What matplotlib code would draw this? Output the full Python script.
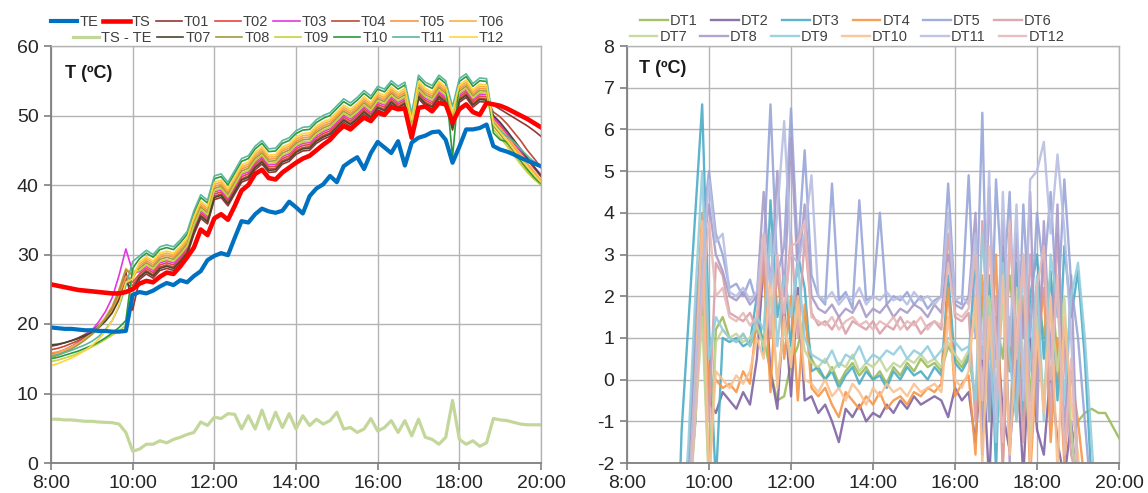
import numpy as np
import matplotlib
matplotlib.use("Agg")
import matplotlib.pyplot as plt

plt.rcParams['font.family'] = ['Liberation Sans', 'DejaVu Sans']
plt.rcParams['axes.unicode_minus'] = False

# ---------------- data ----------------
# left panel: 10-minute samples 8:00 .. 20:00
time_left = 8 + np.arange(73) / 6.0
# right panel: 10-minute samples 9:10 .. 20:00
time_right = 9 + 1 / 6.0 + np.arange(66) / 6.0

xtick_hours = [8, 10, 12, 14, 16, 18, 20]
xtick_labels = ["8:00", "10:00", "12:00", "14:00", "16:00", "18:00", "20:00"]
ytick_left = [0, 10, 20, 30, 40, 50, 60]
ytick_right = [-2, -1, 0, 1, 2, 3, 4, 5, 6, 7, 8]

TE = [19.5, 19.4, 19.3, 19.3, 19.2, 19.1, 19.1, 19.0, 19.0, 18.9, 18.9, 19.0,
      24.2, 24.6, 24.4, 24.8, 25.4, 25.9, 25.6, 26.3, 26.0, 26.9, 27.6, 29.2,
      29.8, 30.2, 29.9, 32.4, 34.8, 34.6, 35.8, 36.6, 36.2, 36.0, 36.3, 37.6,
      36.8, 35.9, 38.4, 39.5, 40.1, 41.3, 40.4, 42.7, 43.4, 44.0, 42.3, 44.6,
      46.2, 45.4, 44.6, 46.3, 42.8, 46.1, 46.8, 47.1, 47.6, 47.7, 46.5, 43.2,
      45.5, 48.0, 48.0, 48.2, 48.7, 45.6, 45.1, 44.8, 44.4, 43.9, 43.5, 43.1,
      42.7]
TS = [25.7, 25.5, 25.3, 25.1, 24.9, 24.8, 24.7, 24.6, 24.5, 24.4, 24.4, 24.6,
      25.0, 25.8, 26.2, 26.0, 26.8, 27.4, 27.2, 28.3, 29.6, 31.0, 33.6, 32.8,
      35.2, 35.8, 35.0, 37.0, 39.2, 40.0, 41.6, 42.2, 41.0, 40.8, 41.8, 42.5,
      43.2, 43.8, 44.2, 45.0, 45.8, 46.5, 47.6, 48.5, 48.0, 48.9, 49.7, 49.2,
      50.4, 50.1, 51.2, 50.9, 51.0, 46.8, 51.1, 51.3, 50.6, 51.8, 51.6, 49.0,
      50.9, 51.6, 50.5, 50.1, 51.8, 51.6, 51.4, 51.0, 50.5, 50.0, 49.5, 48.9,
      48.3]
TS_TE = [6.3, 6.3, 6.2, 6.2, 6.1, 6.0, 6.0, 5.9, 5.85, 5.8, 5.6, 4.4,
         1.7, 2.0, 2.7, 2.7, 3.2, 2.9, 3.4, 3.7, 4.1, 4.4, 5.9, 5.4,
         6.6, 6.4, 7.1, 7.0, 4.9, 6.8, 4.9, 7.6, 4.9, 7.3, 5.1, 7.1,
         4.9, 6.8, 5.4, 6.3, 5.6, 6.1, 7.3, 4.9, 5.1, 4.4, 4.9, 6.4,
         4.6, 5.1, 6.1, 4.4, 6.1, 3.9, 6.3, 3.7, 3.4, 2.7, 3.7, 9.0,
         3.4, 2.7, 3.2, 2.4, 2.9, 6.4, 6.2, 6.1, 5.85, 5.6, 5.5, 5.5,
         5.5]

T01 = [16.8, 17.0, 17.3, 17.6, 18.0, 18.5, 19.0, 19.8, 20.8, 22.2, 24.5, 27.5, 22.0,
       26.4, 27.2, 26.6, 27.7, 28.0, 27.7, 28.7, 29.9, 32.9, 35.2, 34.4, 37.9, 38.2,
       37.0, 38.7, 40.4, 40.8, 42.2, 43.0, 41.8, 41.9, 43.0, 43.4, 44.4, 44.9, 45.0,
       46.0, 46.6, 47.0, 48.0, 49.0, 48.4, 49.2, 50.2, 49.4, 50.8, 50.4, 51.6, 50.8,
       51.4, 46.9, 52.4, 51.4, 50.9, 52.4, 51.6, 47.9, 51.9, 52.6, 51.2, 52.0, 51.9,
       51.5, 50.9, 50.3, 49.7, 49.1, 48.5, 47.8, 47.0]
T02 = [15.6, 15.9, 16.3, 16.8, 17.3, 17.9, 18.6, 19.5, 20.6, 22.0, 24.2, 27.0, 26.0,
       27.2, 28.0, 27.4, 28.5, 28.8, 28.5, 29.5, 30.7, 33.7, 36.0, 35.2, 38.7, 39.0,
       37.8, 39.5, 41.2, 41.6, 43.0, 43.8, 42.6, 42.7, 43.8, 44.2, 45.2, 45.7, 45.8,
       46.8, 47.4, 47.8, 48.8, 49.8, 49.2, 50.0, 51.0, 50.2, 51.6, 51.2, 52.4, 51.6,
       52.2, 47.7, 53.2, 52.2, 51.7, 53.2, 52.4, 48.7, 52.7, 53.4, 52.0, 52.8, 52.7,
       49.5, 48.5, 47.3, 46.0, 44.8, 43.6, 42.4, 41.2]
T03 = [15.3, 15.6, 16.1, 16.7, 17.4, 18.2, 19.1, 20.3, 21.8, 23.8, 27.0, 30.8, 27.5,
       27.5, 28.3, 27.7, 28.8, 29.1, 28.8, 29.8, 31.0, 34.0, 36.3, 35.5, 39.0, 39.3,
       38.1, 39.8, 41.5, 41.9, 43.3, 44.1, 42.9, 43.0, 44.1, 44.5, 45.5, 46.0, 46.1,
       47.1, 47.7, 48.1, 49.1, 50.1, 49.5, 50.3, 51.3, 50.5, 51.9, 51.5, 52.7, 51.9,
       52.5, 48.0, 53.5, 52.5, 52.0, 53.5, 52.7, 49.0, 53.0, 53.7, 52.3, 53.1, 53.0,
       49.8, 48.8, 47.5, 46.2, 45.0, 43.8, 42.6, 41.5]
T04 = [16.3, 16.5, 16.8, 17.2, 17.6, 18.1, 18.7, 19.5, 20.5, 21.8, 23.8, 26.5, 25.5,
       26.9, 27.7, 27.1, 28.2, 28.5, 28.2, 29.2, 30.4, 33.4, 35.7, 34.9, 38.4, 38.7,
       37.5, 39.2, 40.9, 41.3, 42.7, 43.5, 42.3, 42.4, 43.5, 43.9, 44.9, 45.4, 45.5,
       46.5, 47.1, 47.5, 48.5, 49.5, 48.9, 49.7, 50.7, 49.9, 51.3, 50.9, 52.1, 51.3,
       51.9, 47.4, 52.9, 51.9, 51.4, 52.9, 52.1, 48.4, 52.4, 53.1, 51.7, 52.5, 52.4,
       50.5, 49.8, 48.8, 47.6, 46.4, 45.0, 43.8, 42.5]
T05 = [15.8, 16.0, 16.3, 16.7, 17.2, 17.8, 18.5, 19.4, 20.5, 21.9, 24.0, 26.8, 26.5,
       28.3, 29.1, 28.5, 29.6, 29.9, 29.6, 30.6, 31.8, 34.8, 37.1, 36.3, 39.8, 40.1,
       38.9, 40.6, 42.3, 42.7, 44.1, 44.9, 43.7, 43.8, 44.9, 45.3, 46.3, 46.8, 46.9,
       47.9, 48.5, 48.9, 49.9, 50.9, 50.3, 51.1, 52.1, 51.3, 52.7, 52.3, 53.5, 52.7,
       53.3, 48.8, 54.3, 53.3, 52.8, 54.3, 53.5, 49.8, 53.8, 54.5, 53.1, 53.9, 53.8,
       49.0, 48.0, 46.8, 45.5, 44.2, 43.0, 41.8, 40.5]
T06 = [15.5, 15.8, 16.2, 16.7, 17.2, 17.9, 18.7, 19.7, 21.0, 22.6, 25.0, 28.0, 27.0,
       28.6, 29.4, 28.8, 29.9, 30.2, 29.9, 30.9, 32.1, 35.1, 37.4, 36.6, 40.1, 40.4,
       39.2, 40.9, 42.6, 43.0, 44.4, 45.2, 44.0, 44.1, 45.2, 45.6, 46.6, 47.1, 47.2,
       48.2, 48.8, 49.2, 50.2, 51.2, 50.6, 51.4, 52.4, 51.6, 53.0, 52.6, 53.8, 53.0,
       53.6, 49.1, 54.6, 53.6, 53.1, 54.6, 53.8, 50.1, 54.1, 54.8, 53.4, 54.2, 54.1,
       49.3, 48.2, 47.0, 45.7, 44.4, 43.1, 41.9, 40.7]
T07 = [17.0, 17.1, 17.3, 17.6, 17.9, 18.3, 18.8, 19.5, 20.4, 21.6, 23.5, 26.0, 25.0,
       26.7, 27.5, 26.9, 28.0, 28.3, 28.0, 29.0, 30.2, 33.2, 35.5, 34.7, 38.2, 38.5,
       37.3, 39.0, 40.7, 41.1, 42.5, 43.3, 42.1, 42.2, 43.3, 43.7, 44.7, 45.2, 45.3,
       46.3, 46.9, 47.3, 48.3, 49.3, 48.7, 49.5, 50.5, 49.7, 51.1, 50.7, 51.9, 51.1,
       51.7, 47.2, 52.7, 51.7, 51.2, 52.7, 51.9, 48.2, 52.2, 52.9, 51.5, 52.3, 52.2,
       50.0, 49.0, 47.8, 46.5, 45.2, 43.9, 42.6, 41.3]
T08 = [15.2, 15.5, 15.9, 16.4, 17.0, 17.7, 18.5, 19.5, 20.8, 22.4, 24.8, 27.8, 27.0,
       28.0, 28.8, 28.2, 29.3, 29.6, 29.3, 30.3, 31.5, 34.5, 36.8, 36.0, 39.5, 39.8,
       38.6, 40.3, 42.0, 42.4, 43.8, 44.6, 43.4, 43.5, 44.6, 45.0, 46.0, 46.5, 46.6,
       47.6, 48.2, 48.6, 49.6, 50.6, 50.0, 50.8, 51.8, 51.0, 52.4, 52.0, 53.2, 52.4,
       53.0, 48.5, 54.0, 53.0, 52.5, 54.0, 53.2, 49.5, 53.5, 54.2, 52.8, 53.6, 53.5,
       48.5, 47.3, 46.0, 44.7, 43.4, 42.1, 41.0, 40.0]
T09 = [14.6, 14.8, 15.1, 15.4, 15.8, 16.2, 16.7, 17.2, 17.8, 18.4, 19.0, 19.8, 27.5,
       27.7, 28.5, 27.9, 29.0, 29.3, 29.0, 30.0, 31.2, 34.2, 36.5, 35.7, 39.2, 39.5,
       38.3, 40.0, 41.7, 42.1, 43.5, 44.3, 43.1, 43.2, 44.3, 44.7, 45.7, 46.2, 46.3,
       47.3, 47.9, 48.3, 49.3, 50.3, 49.7, 50.5, 51.5, 50.7, 52.1, 51.7, 52.9, 52.1,
       52.7, 48.2, 53.7, 52.7, 52.2, 53.7, 52.9, 49.2, 53.2, 53.9, 52.5, 53.3, 53.2,
       48.0, 46.8, 45.6, 44.3, 43.0, 41.8, 40.8, 40.0]
T10 = [15.0, 15.2, 15.5, 15.8, 16.1, 16.5, 16.9, 17.4, 18.0, 18.7, 19.5, 20.5, 28.0,
       29.4, 30.2, 29.6, 30.7, 31.0, 30.7, 31.7, 32.9, 35.9, 38.2, 37.4, 40.9, 41.2,
       40.0, 41.7, 43.4, 43.8, 45.2, 46.0, 44.8, 44.9, 46.0, 46.4, 47.4, 47.9, 48.0,
       49.0, 49.6, 50.0, 51.0, 52.0, 51.4, 52.2, 53.2, 52.4, 53.8, 53.4, 54.6, 53.8,
       54.4, 49.9, 55.4, 54.4, 53.9, 55.4, 54.6, 44.0, 54.9, 55.6, 54.2, 55.0, 54.9,
       47.5, 46.5, 46.2, 45.0, 43.6, 42.3, 41.1, 40.2]
T11 = [15.4, 15.6, 15.9, 16.2, 16.6, 17.0, 17.5, 18.2, 19.2, 20.5, 22.5, 25.5, 29.0,
       29.8, 30.6, 30.0, 31.1, 31.4, 31.1, 32.1, 33.3, 36.3, 38.6, 37.8, 41.3, 41.6,
       40.4, 42.1, 43.8, 44.2, 45.6, 46.4, 45.2, 45.3, 46.4, 46.8, 47.8, 48.3, 48.4,
       49.4, 50.0, 50.4, 51.4, 52.4, 51.8, 52.6, 53.6, 52.8, 54.2, 53.8, 55.0, 54.2,
       54.8, 50.3, 55.8, 54.8, 54.3, 55.8, 55.0, 51.3, 55.3, 56.0, 54.6, 55.4, 55.3,
       49.0, 47.8, 47.0, 46.2, 45.2, 44.2, 43.3, 42.6]
T12 = [14.0, 14.3, 14.7, 15.1, 15.6, 16.2, 16.9, 17.8, 19.0, 20.5, 22.8, 26.0, 26.5,
       28.9, 29.7, 29.1, 30.2, 30.5, 30.2, 31.2, 32.4, 35.4, 37.7, 36.9, 40.4, 40.7,
       39.5, 41.2, 42.9, 43.3, 44.7, 45.5, 44.3, 44.4, 45.5, 45.9, 46.9, 47.4, 47.5,
       48.5, 49.1, 49.5, 50.5, 51.5, 50.9, 51.7, 52.7, 51.9, 53.3, 52.9, 54.1, 53.3,
       53.9, 49.4, 54.9, 53.9, 53.4, 54.9, 54.1, 50.4, 54.4, 55.1, 53.7, 54.5, 54.4,
       48.8, 47.6, 46.4, 45.1, 43.8, 42.6, 41.5, 40.4]

DT1 = [-6, -4, -2.8, -0.5, 2.0, -2.5, 1.2, 1.5, 1.0, 0.9, 1.1, 0.8,
       1.2, 1.0, 0.2, -0.5, -0.4, 0.4, 0.8, 1.5, 0.5, 0.2, 0.0, 0.3,
       -0.1, 0.2, 0.4, 0.1, 0.3, 0.0, 0.2, -0.1, 0.3, 0.1, 0.4, 0.2,
       0.5, 0.3, 0.4, 0.2, 0.8, 0.5, 0.3, 0.6, -0.5, 2.0, -1.0, 1.5,
       0.5, 2.5, 0.8, 1.8, -0.5, 2.2, 1.0, 2.5, 0.5, 1.2, -1.5, -1.0,
       -0.8, -0.7, -0.8, -0.8, -1.1, -1.4]
DT2 = [-6, -5, -3, -1.0, 2.5, -0.5, -0.8, -0.3, -0.5, -0.7, -0.3, -0.6,
       0.5, 2.8, 0.2, -0.7, 1.8, -0.4, 2.2, -0.5, -0.4, -0.8, -0.6, -1.0,
       -1.5, -0.7, -0.9, -0.6, -1.0, -0.8, -0.9, -0.6, -0.8, -0.5, -0.7, -0.4,
       -0.6, -0.5, -0.4, -0.5, -0.9, -0.2, -0.5, -0.3, -1.5, 0.8, -2.5, 1.5,
       -0.8, -1.7, 0.5, -2.3, 1.0, -1.2, -1.8, 0.3, -1.5, -2.4, -1.0, -3.0,
       -5, -6, -6, -6, -6, -6]
DT3 = [-6, -1.2, 1.4, 4.0, 6.6, 1.2, -2.5, 1.0, 0.9, 1.0, 0.8, 0.9,
       2.0, 0.6, 4.3, 1.5, 2.5, 0.8, 3.0, 2.2, 0.2, 0.3, 0.0, 0.2,
       -0.2, 0.1, 0.3, -0.1, 0.2, 0.0, 0.1, -0.2, 0.2, 0.0, 0.3, 0.1,
       0.2, 0.0, 0.3, 0.1, 2.5, 0.4, 0.2, 0.5, 3.0, -1.5, 2.5, -2.2,
       3.2, 0.2, 2.8, -1.0, 2.0, 3.0, 0.5, 2.6, -0.5, 3.2, 1.5, 2.6,
       0.5, -2.5, -4, -6, -6, -6]
DT4 = [-6, -5, -2.5, 1.0, 4.0, -0.5, 0.0, -0.2, -0.1, -0.3, 0.2, -0.1,
       1.5, 2.7, -0.3, 2.8, 0.5, 2.0, -0.5, 1.8, -0.2, -0.4, -0.2, -0.6,
       -0.9, -0.3, -0.5, -0.7, -0.4, -0.6, -0.3, -0.7, -0.5, -0.4, -0.6, -0.3,
       -0.4, -0.2, -0.3, -0.1, 2.2, -0.4, -0.1, 0.1, -1.8, 2.5, -0.5, 3.0,
       -2.0, 1.5, -1.0, 2.0, -2.3, 0.5, 2.2, -1.5, 1.0, -2.0, 0.2, -1.0,
       -2.5, -5, -6, -6, -6, -6]
DT5 = [-6, -5, -2.2, 1.5, 3.5, 5.0, 3.5, 3.0, 2.2, 2.3, 2.0, 2.4,
       1.8, 3.0, 6.6, 2.5, 3.2, 6.5, 3.0, 5.5, 2.5, 2.0, 1.8, 4.7,
       1.9, 2.1, 1.7, 4.3, 1.9, 2.0, 4.0, 1.8, 2.0, 1.9, 2.1, 1.8,
       2.0, 1.7, 1.9, 2.0, 4.7, 1.9, 1.8, 4.9, 1.0, 6.4, -1.0, 4.8,
       2.0, 4.5, -0.5, 4.2, 1.0, 4.0, 2.5, 4.5, 1.5, 4.8, 2.3, 1.0,
       -1.0, -3, -6, -6, -6, -6]
DT6 = [-6, -5, -3, -0.5, 2.5, -1.0, 2.8, 2.5, 1.6, 1.5, 1.4, 1.6,
       1.2, 3.0, 1.0, 2.5, 1.5, 3.5, 1.0, 3.4, 1.6, 1.3, 1.4, 1.2,
       1.5, 1.1, 1.4, 1.3, 1.2, 1.4, 1.1, 1.3, 1.2, 1.5, 1.2, 1.4,
       1.1, 1.3, 1.4, 1.2, 3.5, 1.5, 1.4, 1.6, -1.0, 3.8, 0.5, 2.0,
       -2.2, 3.5, 1.2, -1.5, 3.0, 0.8, 2.8, -1.0, 3.5, 0.5, -1.8, -2.5,
       -5, -6, -6, -6, -6, -6]
DT7 = [-6, -5, -3.5, -1.0, 1.5, -2.6, 0.9, 1.2, 1.0, 1.1, 0.9, 1.0,
       1.3, 0.8, 2.0, 0.0, 1.2, 0.6, 1.8, 0.7, 0.4, 0.3, 0.5, 0.2,
       0.4, 0.3, 0.6, 0.2, 0.4, 0.3, 0.5, 0.2, 0.4, 0.3, 0.5, 0.4,
       0.6, 0.4, 0.5, 0.3, 0.9, 0.6, 0.4, 0.7, 1.5, -0.8, 2.0, 0.3,
       1.8, -1.2, 2.2, 0.6, -1.5, 1.5, -0.5, 1.8, 0.2, 2.0, -1.2, -2.8,
       -5, -6, -6, -6, -6, -6]
DT8 = [-6, -5, -2.8, 0.5, 3.0, 4.2, 3.0, 2.6, 2.0, 1.9, 2.1, 1.8,
       2.0, 4.5, 2.2, 5.0, 2.0, 5.8, 2.5, 4.2, 2.0, 1.7, 1.6, 1.8,
       1.5, 1.7, 1.6, 1.9, 1.5, 1.7, 1.6, 1.8, 1.5, 1.7, 1.6, 1.8,
       1.7, 1.5, 1.8, 1.6, 3.0, 1.8, 1.7, 2.0, 4.0, -1.8, 4.6, 0.5,
       3.8, -2.0, 3.5, 1.0, 4.5, -1.0, 3.8, 0.5, 4.2, -1.5, 2.5, -2.5,
       -5, -6, -6, -6, -6, -6]
DT9 = [-6, -4, -1.5, 2.0, 5.0, 0.5, 1.5, 1.2, 1.0, 0.9, 1.1, 0.8,
       1.5, 1.2, 3.5, 0.8, 2.5, 1.5, 2.8, 1.0, 0.6, 0.5, 0.4, 0.7,
       0.3, 0.6, 0.5, 0.8, 0.4, 0.6, 0.5, 0.7, 0.6, 0.8, 0.5, 0.7,
       0.6, 0.8, 0.5, 0.7, 1.0, 0.9, 0.7, 0.8, -0.5, 3.5, 1.0, -1.5,
       2.8, 0.5, -1.0, 3.0, 0.2, 2.5, -1.0, 3.0, 1.8, -0.5, 2.0, 2.8,
       1.0, -1.5, -4, -6, -6, -6]
DT10 = [-6, -5, -3, 0.0, 3.8, -2.5, 0.2, 0.0, -0.2, 0.1, -0.1, 0.2,
        1.0, 0.5, 2.5, -0.2, 1.5, 0.3, 2.0, 0.0, -0.1, -0.3, 0.0, -0.4,
        -0.2, -0.5, -0.1, -0.3, -0.6, -0.2, -0.4, -0.1, -0.3, -0.2, -0.4, -0.1,
        -0.3, -0.2, -0.1, -0.3, 1.5, 0.0, -0.2, 0.2, 2.0, -2.0, 1.5, -0.5,
        2.5, -1.8, 1.0, 2.8, -2.0, 1.2, -0.8, 2.0, -2.2, 1.5, -0.5, -1.8,
        -4, -6, -6, -6, -6, -6]
DT11 = [-6, -5, -3, 0.0, 2.5, 4.8, 3.3, 3.5, 2.1, 2.0, 2.2, 1.9,
        2.1, 3.5, 2.3, 4.0, 6.2, 3.0, 2.8, 3.5, 4.9, 2.0, 1.9, 2.1,
        1.8, 2.0, 1.9, 2.2, 1.8, 2.0, 1.9, 2.1, 1.9, 2.0, 1.8, 2.1,
        1.9, 2.0, 1.8, 2.0, 4.0, 1.9, 2.0, 1.8, 3.5, 0.5, 5.0, -1.0,
        4.5, 0.8, 4.2, -0.5, 4.8, 5.0, 5.7, 3.5, 5.4, 3.6, 1.0, -2.5,
        -5, -6, -6, -6, -6, -6]
DT12 = [-6, -5, -3.2, -0.8, 2.0, 3.8, 2.0, 2.2, 1.5, 1.4, 1.6, 1.3,
        1.5, 3.5, 1.2, 3.0, 1.6, 3.2, 3.3, 3.8, 1.5, 1.4, 1.3, 1.5,
        1.2, 1.4, 1.5, 1.3, 1.4, 1.2, 1.4, 1.3, 1.5, 1.2, 1.4, 1.3,
        1.5, 1.2, 1.4, 1.3, 2.8, 1.6, 1.5, 1.7, 3.0, -0.5, 3.2, 1.0,
        -1.5, 3.8, 0.5, 3.0, -1.0, 2.2, 3.2, 0.0, 2.5, -1.8, 0.5, -2.5,
        -5, -6, -6, -6, -6, -6]

T_series = [("T01", T01, "#943634"), ("T02", T02, "#E8433F"), ("T03", T03, "#E336E3"),
            ("T04", T04, "#BE4B37"), ("T05", T05, "#F79646"), ("T06", T06, "#F8B04A"),
            ("T07", T07, "#4A4530"), ("T08", T08, "#A39B3E"), ("T09", T09, "#C5D33C"),
            ("T10", T10, "#2E9A3C"), ("T11", T11, "#5CB6A0"), ("T12", T12, "#FFD43E")]
DT_series = [("DT1", DT1, "#9BBB59"), ("DT2", DT2, "#8064A2"), ("DT3", DT3, "#4BACC6"),
             ("DT4", DT4, "#F79646"), ("DT5", DT5, "#98A5D8"), ("DT6", DT6, "#D9A0AA"),
             ("DT7", DT7, "#C3D69B"), ("DT8", DT8, "#A99BC9"), ("DT9", DT9, "#93CDDD"),
             ("DT10", DT10, "#FAC090"), ("DT11", DT11, "#B8BEE3"), ("DT12", DT12, "#E6B9B8")]

# ---------------- figure ----------------
W, H = 1148, 493
fig = plt.figure(figsize=(W / 100, H / 100), dpi=100)
ax1 = fig.add_axes([51 / W, 1 - 463 / H, (541 - 51) / W, (463 - 46) / H])
ax2 = fig.add_axes([627 / W, 1 - 463 / H, (1119 - 627) / W, (463 - 46) / H])

grid_c = "#B4B4B4"
axis_c = "#7F7F7F"
text_c = "#262626"


def style(ax, yticks):
    ax.set_xlim(8, 20)
    ax.set_ylim(yticks[0], yticks[-1])
    ax.set_xticks(xtick_hours)
    ax.set_xticklabels(xtick_labels)
    ax.set_yticks(yticks)
    ax.grid(True, color=grid_c, linewidth=1.0)
    ax.set_axisbelow(True)
    for s in ("top", "right"):
        ax.spines[s].set_color(grid_c)
        ax.spines[s].set_linewidth(1.0)
    for s in ("left", "bottom"):
        ax.spines[s].set_color(axis_c)
        ax.spines[s].set_linewidth(1.3)
    ax.tick_params(direction="out", length=5, width=1.2, color=axis_c,
                   labelsize=14, labelcolor=text_c, pad=4)


style(ax1, ytick_left)
style(ax2, ytick_right)

# left panel
t_handles = {}
for name, vals, col in T_series:
    (h,) = ax1.plot(time_left, vals, color=col, lw=1.2, label=name)
    t_handles[name] = h
(h_te,) = ax1.plot(time_left, TE, color="#0070C0", lw=3.0, label="TE")
(h_ts,) = ax1.plot(time_left, TS, color="#FF0000", lw=3.3, label="TS")
(h_d,) = ax1.plot(time_left, TS_TE, color="#C4D79B", lw=2.3, label="TS - TE")

ax1.text(0.028, 0.935, "T (ºC)", transform=ax1.transAxes, fontsize=13,
         fontweight="bold", color="#1a1a1a", va="center", ha="left")

# right panel
dt_handles = {}
for name, vals, col in DT_series:
    (h,) = ax2.plot(time_right, vals, color=col, lw=1.7, alpha=0.9, label=name)
    dt_handles[name] = h

ax2.text(0.025, 0.947, "T (ºC)", transform=ax2.transAxes, fontsize=13,
         fontweight="bold", color="#1a1a1a", va="center", ha="left")

# legends
leg_kw = dict(frameon=False, fontsize=10.5, handlelength=1.8, handletextpad=0.15,
              columnspacing=0.35, borderpad=0, borderaxespad=0,
              bbox_transform=fig.transFigure, labelcolor="#404040")

row1 = [h_te, h_ts] + [t_handles[n] for n in ["T01", "T02", "T03", "T04", "T05", "T06"]]
row2 = [h_d] + [t_handles[n] for n in ["T07", "T08", "T09", "T10", "T11", "T12"]]
fig.legend(handles=row1, labels=[h.get_label() for h in row1], ncol=8,
           loc="center right", bbox_to_anchor=(504 / W, 1 - 22 / H), **leg_kw)
fig.legend(handles=row2, labels=[h.get_label() for h in row2], ncol=7,
           loc="center right", bbox_to_anchor=(504 / W, 1 - 38 / H), **leg_kw)

drow1 = [dt_handles[n] for n in ["DT1", "DT2", "DT3", "DT4", "DT5", "DT6"]]
drow2 = [dt_handles[n] for n in ["DT7", "DT8", "DT9", "DT10", "DT11", "DT12"]]
leg_kw2 = dict(leg_kw)
leg_kw2["columnspacing"] = 0.9
leg_kw2["handlelength"] = 1.9
fig.legend(handles=drow1, labels=[h.get_label() for h in drow1], ncol=6,
           loc="center", bbox_to_anchor=(846 / W, 1 - 21 / H), **leg_kw2)
fig.legend(handles=drow2, labels=[h.get_label() for h in drow2], ncol=6,
           loc="center", bbox_to_anchor=(847 / W, 1 - 37 / H), **leg_kw2)

fig.savefig("out.png", dpi=100)
